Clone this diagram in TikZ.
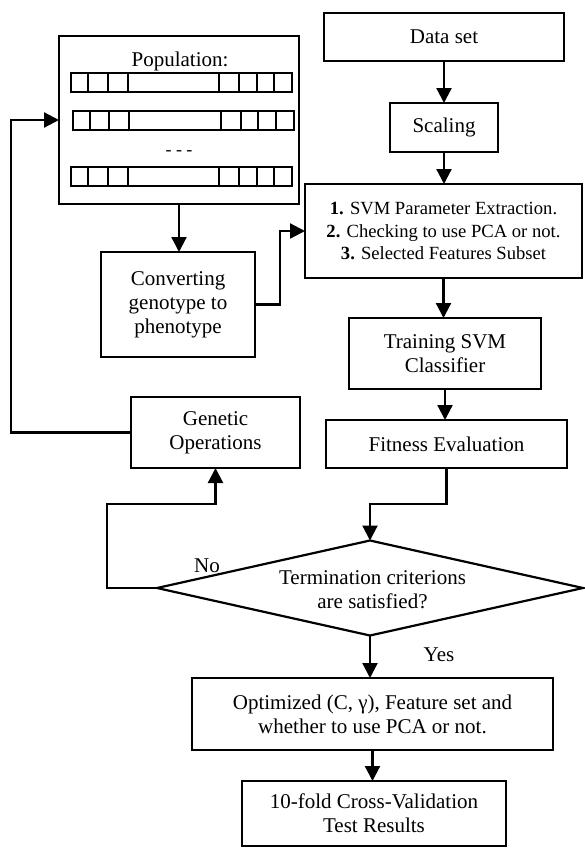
\documentclass[tikz,border=0pt]{standalone}
\usepackage{fontspec}
\setmainfont{Liberation Serif}
\usetikzlibrary{arrows.meta,shapes.geometric,calc}
\newcommand{\chromrow}[2]{%
  \draw[cell] (#1,#2) rectangle ++(221,19);
  \foreach \d in {17,36.4,56.4,148,168,185.4,203} \draw[cell] ({#1+\d},#2) -- ++(0,19);
}
\begin{document}
\begin{tikzpicture}[x=1pt,y=-1pt,
  box/.style={draw, line width=2.2pt, inner sep=0pt, outer sep=0pt, align=center,
    font=\fontsize{21}{24}\selectfont},
  smallbox/.style={box, font=\fontsize{18.6}{22.5}\selectfont},
  lbl/.style={inner sep=0pt, font=\fontsize{21}{24}\selectfont},
  cell/.style={line width=2pt},
  arr/.style={-{Triangle[length=15pt,width=15pt]}, line width=2.2pt},
  conn/.style={line width=2.2pt}]
\useasboundingbox (0,0) rectangle (584,849);

% nodes
\node[box, minimum width=240pt, minimum height=168pt] (pop) at (179,120) {};
\node[lbl] (poplabel) at (180,61) {Population:};
\chromrow{71.3}{73}
\chromrow{72.7}{111}
\node[lbl, font=\fontsize{18}{20}\selectfont] (dots) at (179,153) {- - -};
\chromrow{71.3}{167}

\node[box, minimum width=240pt, minimum height=48pt] (data) at (444,37) {Data set};
\node[box, minimum width=108pt, minimum height=49pt] (scal) at (444,127.5) {Scaling};
\node[smallbox, minimum width=277pt, minimum height=94pt] (svm) at (443.5,231)
  {\textbf{1.} SVM Parameter Extraction.\\ \textbf{2.} Checking to use PCA or not.\\ \textbf{3.} Selected Features Subset};
\node[box, minimum width=154pt, minimum height=105pt] (conv) at (178,304.5)
  {Converting\\ genotype to\\ phenotype};
\node[box, minimum width=192pt, minimum height=71pt] (train) at (445,353.5)
  {Training SVM\\ Classifier};
\node[box, minimum width=169pt, minimum height=71pt] (gen) at (215.5,432.5)
  {Genetic\\ Operations};
\node[box, minimum width=241pt, minimum height=48pt] (fit) at (446.5,444)
  {Fitness Evaluation};
\node[box, diamond, minimum width=426pt, minimum height=95pt, aspect=4.5] (dia) at (370,588) {};
\node[lbl, align=center] (diatext) at (372.5,590) {Termination criterions\\ are satisfied?};
\node[box, minimum width=361pt, minimum height=72pt] (opt) at (372.5,714)
  {Optimized (C, γ), Feature set and\\ whether to use PCA or not.};
\node[box, minimum width=264pt, minimum height=65pt] (ten) at (374,813.5)
  {10-fold Cross-Validation\\ Test Results};
\node[lbl] (no) at (207,566) {No};
\node[lbl] (yes) at (439,655) {Yes};

% connectors
\draw[arr] (data.south) -- (data.south |- scal.north);
\draw[arr] (scal.south) -- (scal.south |- svm.north);
\draw[arr] (svm.south) -- (svm.south |- train.north);
\draw[arr] (train.south) -- (train.south |- fit.north);
\draw[arr] (fit.south) -- ++(0,36) -| (dia.north);
\draw[arr] (dia.south) -- (dia.south |- opt.north);
\draw[arr] (opt.south) -- (opt.south |- ten.north);
\draw[arr] (dia.west) -- ++(-50,0) -- ++(0,-84) -| (gen.south);
\draw[arr] (gen.west) -- ++(-120,0) |- (pop.west);
\draw[arr] (pop.south) -- (pop.south |- conv.north);
\draw[arr] (conv.east) -- ++(25,0) |- (svm.west);
\end{tikzpicture}
\end{document}
